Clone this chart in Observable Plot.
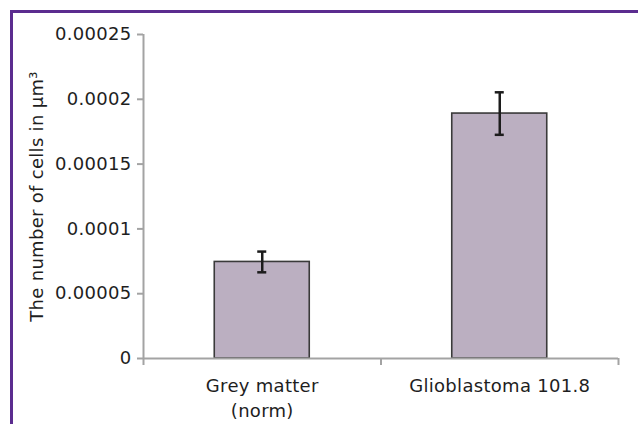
<!DOCTYPE html>
<html>
<head>
<meta charset="utf-8">
<script src="https://cdn.jsdelivr.net/npm/d3@7"></script>
<script src="https://cdn.jsdelivr.net/npm/@observablehq/plot@0.6"></script>
<style>
  html, body { margin: 0; padding: 0; background: #fff; }
  #wrap { position: relative; width: 638px; height: 424px; overflow: hidden; background: #fff; }
  #border { position: absolute; left: 10px; top: 10px; right: -10px; bottom: -10px;
            border-top: 3px solid #5b2c8f; border-left: 3px solid #5b2c8f; pointer-events: none; }
  svg text { letter-spacing: 0.3px; }
</style>
</head>
<body>
<div id="wrap"><div id="border"></div></div>
<script>
const categories = ["Grey matter\n(norm)", "Glioblastoma 101.8"];
const means = [0.0000745, 0.000189];
const errors = [0.0000080, 0.0000164];
const yTicks = [0, 0.00005, 0.0001, 0.00015, 0.0002, 0.00025];
const xBoundaries = [0, 1, 2];
const yLabel = "The number of cells in μm³";

const rows = categories.map((c, i) => ({label: c, i, mean: means[i], err: errors[i]}));
const fmt = d => d === 0 ? "0" : d3.format(".5f")(d).replace(/0+$/, "");
const axisGrey = "#a3a3a3";
const capHalf = 0.019;

const chart = Plot.plot({
  width: 638,
  height: 424,
  marginLeft: 143,
  marginRight: 20,
  marginTop: 34,
  marginBottom: 66,
  style: {fontFamily: "DejaVu Sans, sans-serif", fontSize: "18px", color: "#1e1e1e", background: "transparent", overflow: "visible"},
  x: {type: "linear", domain: [0, 2]},
  y: {domain: [0, 0.00025]},
  marks: [
    Plot.rectY(rows, {x1: d => d.i + 0.3, x2: d => d.i + 0.7, y1: 0, y2: "mean", fill: "#bbafc1", stroke: "#3a3a3a", strokeWidth: 1.6}),
    Plot.ruleX(rows, {x: d => d.i + 0.5, y1: d => d.mean - d.err, y2: d => d.mean + d.err, stroke: "#1c1c1c", strokeWidth: 2.5}),
    Plot.ruleY(rows, {y: d => d.mean + d.err, x1: d => d.i + 0.5 - capHalf, x2: d => d.i + 0.5 + capHalf, stroke: "#1c1c1c", strokeWidth: 2.5}),
    Plot.ruleY(rows, {y: d => d.mean - d.err, x1: d => d.i + 0.5 - capHalf, x2: d => d.i + 0.5 + capHalf, stroke: "#1c1c1c", strokeWidth: 2.5}),
    Plot.ruleX([0], {y1: 0, y2: 0.00025, stroke: axisGrey, strokeWidth: 2}),
    Plot.ruleY([0], {x1: 0, x2: 2, stroke: axisGrey, strokeWidth: 2}),
    Plot.axisY({ticks: yTicks, tickFormat: fmt, tickSize: 6, tickPadding: 6, stroke: axisGrey, strokeWidth: 2, label: null, fill: "#1e1e1e"}),
    Plot.axisX({ticks: xBoundaries, tickFormat: () => "", tickSize: 7, stroke: axisGrey, strokeWidth: 2, label: null}),
    Plot.text(rows, {x: d => d.i + 0.5, y: 0, text: "label", dy: 16, lineAnchor: "top", lineHeight: 1.38, fill: "#1e1e1e"}),
    Plot.text([yLabel], {frameAnchor: "left", textAnchor: "middle", rotate: -90, dx: -101, lineAnchor: "bottom", fill: "#1e1e1e"})
  ]
});
document.getElementById("wrap").appendChild(chart);
chart.style.position = "absolute";
chart.style.left = "0";
chart.style.top = "0";
</script>
</body>
</html>
